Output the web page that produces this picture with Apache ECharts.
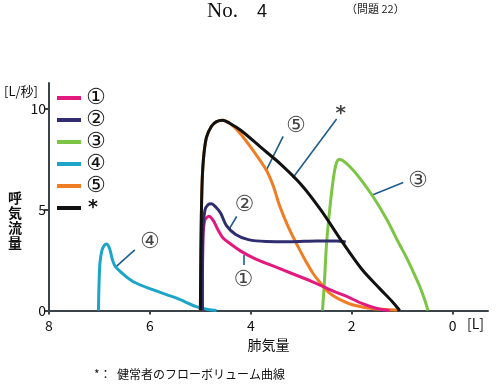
<!DOCTYPE html>
<html><head><meta charset="utf-8">
<script src="https://cdn.jsdelivr.net/npm/echarts@6/dist/echarts.min.js"></script>
<style>html,body{margin:0;padding:0;background:#fff}#c{width:496px;height:384px}</style>
</head><body><div id="c"></div>
<script>
// ---- data ----
const seriesNames = ['①', '②', '③', '④', '⑤', '*'];
const seriesColors = ['#e2197f', '#2f2d6e', '#7cc444', '#1ba6c9', '#f07d24', '#111111'];
const curve1 = [[4.96,0],[4.95,3.5],[4.91,4.5],[4.83,4.68],[4.74,4.45],[4.66,4.05],[4.55,3.6],[4.4,3.3],[4.2,2.95],[3.9,2.55],[3.6,2.25],[3.2,1.85],[2.8,1.45],[2.4,1.0],[2.1,0.7],[1.8,0.35],[1.5,0.1],[1.25,0]];
const curve2 = [[4.96,0],[4.95,4.0],[4.91,4.98],[4.85,5.25],[4.78,5.3],[4.7,5.15],[4.6,4.84],[4.48,4.2],[4.3,3.78],[4.05,3.52],[3.7,3.43],[3.2,3.42],[2.7,3.45],[2.3,3.45],[2.12,3.4]];
const curve3 = [[2.58,0],[2.54,1.5],[2.5,3.3],[2.45,4.7],[2.4,5.85],[2.35,6.8],[2.3,7.35],[2.25,7.5],[2.18,7.45],[2.04,7.15],[1.85,6.6],[1.58,5.66],[1.3,4.5],[1.1,3.5],[0.92,2.65],[0.75,1.75],[0.65,1.18],[0.55,0.5],[0.49,0]];
const curve4 = [[7.02,0],[7.01,1.2],[6.99,2.36],[6.95,3.0],[6.9,3.25],[6.86,3.3],[6.81,3.15],[6.78,2.9],[6.74,2.5],[6.69,2.2],[6.55,1.85],[6.33,1.43],[5.93,1.02],[5.47,0.61],[5.08,0.19],[4.85,0.05],[4.68,0]];
const curve5 = [[5.0,0],[4.99,3],[4.97,6],[4.94,7.5],[4.88,8.6],[4.78,9.15],[4.68,9.38],[4.56,9.45],[4.42,9.3],[4.25,8.9],[4.0,8.1],[3.7,7.0],[3.55,6.15],[3.43,5.2],[3.25,4.1],[3.06,3.15],[2.9,2.4],[2.77,1.85],[2.6,1.3],[2.44,0.86],[2.2,0.5],[1.97,0.27],[1.6,0.1],[1.1,0.02]];
const curveNormal = [[5.0,0],[4.99,3],[4.97,6],[4.94,7.5],[4.88,8.6],[4.78,9.15],[4.68,9.38],[4.56,9.45],[4.42,9.3],[4.2,8.95],[3.8,8.1],[3.4,7.25],[3.0,6.25],[2.6,4.95],[2.2,3.45],[1.8,2.05],[1.45,1.1],[1.2,0.45],[1.05,0]];
const curves = [curve1, curve2, curve3, curve4, curve5, curveNormal];
const curveZ = [4, 4, 3, 3, 3, 6];
const xTicks = [0, 2, 4, 6, 8];
const yTicks = [0, 5, 10];
const leaderSegments = [
  [[4.15,2.76],[4.15,2.26]],
  [[4.28,4.67],[4.43,4.04]],
  [[0.98,6.36],[1.58,5.75]],
  [[6.30,3.01],[6.67,2.18]],
  [[3.36,8.65],[3.69,6.99]],
  [[2.30,9.51],[3.17,6.58]]
];
const leaderLabelPos = [[4.15,1.52],[4.13,5.25],[0.69,6.41],[6.0,3.37],[3.11,9.14],[2.22,9.78]];

// ---- chart ----
const FONT = '"Noto Sans CJK JP", "Noto Sans", sans-serif';
const CIRC = '"DejaVu Sans", sans-serif';
const chart = echarts.init(document.getElementById('c'), null, {renderer: 'canvas'});
const axisColor = '#3a4448';
const series = curves.map((c, i) => ({
  type: 'line', name: seriesNames[i], data: c, smooth: 0.3,
  symbol: 'none', showSymbol: false, z: curveZ[i],
  lineStyle: {width: 3, color: seriesColors[i]},
  itemStyle: {color: seriesColors[i]}
}));
series.push({
  type: 'lines', coordinateSystem: 'cartesian2d', z: 2,
  data: leaderSegments.map(s => ({coords: s})),
  lineStyle: {color: '#1f5b8b', width: 1.6, opacity: 1}
});
series.push({
  type: 'scatter', z: 7, symbol: 'circle', symbolSize: 1,
  itemStyle: {color: 'transparent'},
  data: leaderLabelPos.map((p, i) => ({
    value: p,
    label: {show: true, position: 'inside', formatter: seriesNames[i] === '*' ? '{a|*}' : seriesNames[i]}
  })),
  label: {show: true, fontSize: 22, color: '#111', fontFamily: CIRC,
    rich: {a: {fontSize: 20, fontWeight: 'bold', color: '#111', fontFamily: CIRC}}}
});
chart.setOption({
  animation: false,
  backgroundColor: '#fff',
  grid: {left: 49, right: 8, top: 83, bottom: 73.5},
  legend: {
    data: seriesNames, orient: 'vertical', left: 52, top: 82,
    icon: 'rect', itemWidth: 24, itemHeight: 4, itemGap: 0,
    formatter: n => n === '*' ? '{a|*}' : n,
    textStyle: {fontSize: 22, lineHeight: 22, height: 22, color: '#111', fontFamily: CIRC,
      rich: {a: {fontSize: 19, fontWeight: 'bold', lineHeight: 22, height: 22, color: '#111', fontFamily: CIRC, padding: [0, 0, 0, 2]}}}
  },
  xAxis: {
    type: 'value', inverse: true, min: -0.7, max: 8,
    axisLine: {show: true, lineStyle: {color: axisColor, width: 2}},
    axisTick: {show: true, customValues: xTicks, length: 4, lineStyle: {color: axisColor, width: 2}},
    axisLabel: {customValues: xTicks, fontSize: 14, color: '#111', margin: 8, fontFamily: FONT},
    splitLine: {show: false},
    name: '肺気量', nameLocation: 'middle', nameGap: 26,
    nameTextStyle: {fontSize: 14, color: '#111', fontFamily: FONT}
  },
  yAxis: {
    type: 'value', min: 0, max: 11.3,
    axisLine: {show: true, onZero: false, lineStyle: {color: axisColor, width: 2}},
    axisTick: {show: true, customValues: yTicks, length: 5, lineStyle: {color: axisColor, width: 2}},
    axisLabel: {customValues: yTicks, fontSize: 14, color: '#111', margin: 3, fontFamily: FONT},
    splitLine: {show: false}
  },
  graphic: [
    {type: 'text', left: 207, top: 1, style: {text: 'No.', fontSize: 21, fontFamily: '"Liberation Serif", serif', fill: '#111'}},
    {type: 'text', left: 257, top: 3, style: {text: '4', fontSize: 18, fontFamily: '"Liberation Sans", sans-serif', fill: '#111'}},
    {type: 'text', left: 346, top: 3, style: {text: '（問題 22）', fontSize: 11, fontFamily: FONT, fill: '#222'}},
    {type: 'text', left: 4, top: 85, style: {text: '[L/秒]', fontSize: 13, fontFamily: FONT, fill: '#111'}},
    {type: 'text', left: 8, top: 190, style: {text: '呼\n気\n流\n量', fontSize: 14, lineHeight: 15, fontWeight: 'bold', fontFamily: FONT, fill: '#111'}},
    {type: 'text', left: 467, top: 317, style: {text: '[L]', fontSize: 14, fontFamily: FONT, fill: '#111'}},
    {type: 'text', left: 94, top: 368, style: {text: '*：  健常者のフローボリューム曲線', fontSize: 12, fontFamily: FONT, fill: '#111'}}
  ],
  series: series
});
</script>
</body></html>
